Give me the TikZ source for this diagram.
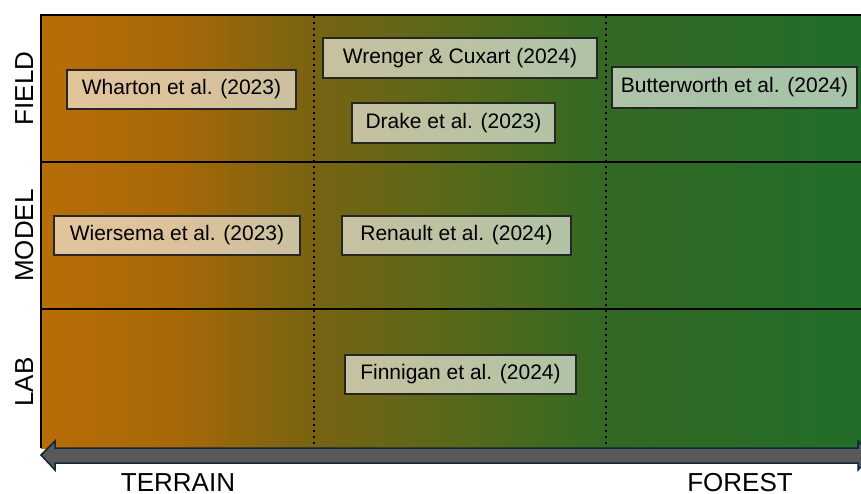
\documentclass[tikz,border=0pt]{standalone}
\usepackage{fontspec}
\setmainfont{Liberation Sans}
\pgfdeclarehorizontalshading{bgshade}{100bp}{
  rgb(0bp)=(0.72,0.43,0.03);
  rgb(25bp)=(0.72,0.43,0.03);
  rgb(33bp)=(0.66,0.41,0.03);
  rgb(41.6bp)=(0.47,0.39,0.07);
  rgb(50.5bp)=(0.34,0.41,0.10);
  rgb(59.4bp)=(0.20,0.41,0.14);
  rgb(75bp)=(0.13,0.43,0.16);
  rgb(100bp)=(0.13,0.43,0.16)}
\tikzset{
  refbox/.style={draw=black!85, line width=1.2pt, fill=white, fill opacity=0.6, text opacity=1,
    inner sep=0pt, font=\fontsize{21}{25}\selectfont},
  rowlabel/.style={font=\fontsize{26}{30}\selectfont, rotate=90, anchor=base, inner sep=0pt},
  axlabel/.style={font=\fontsize{26}{30}\selectfont, anchor=base, inner sep=0pt},
  divider/.style={line width=2pt, black},
  dotline/.style={line width=2.4pt, black, dash pattern=on 2.4pt off 3.6pt}
}
\begin{document}
\begin{tikzpicture}[x=1pt,y=-1pt]
\useasboundingbox (0,0) rectangle (861,493);
\clip (0,0) rectangle (861,493);
% background gradient
\shade[shading=bgshade] (41,15) rectangle (861,448);
% frame
\draw[divider] (870,15) -- (41,15) -- (41,448);
\draw[divider] (41,162) -- (870,162);
\draw[divider] (41,309) -- (870,309);
\coordinate (d1t) at (314,16);
\coordinate (d1b) at (314,448);
\coordinate (d2t) at (606,16);
\coordinate (d2b) at (606,448);
\draw[dotline] (d1t) -- (d1b);
\draw[dotline] (d2t) -- (d2b);
% boxes
\node[refbox, minimum width=229pt, minimum height=39pt] (wharton) at (181.5,89.5) {Wharton et al. (2023)};
\node[refbox, minimum width=274pt, minimum height=40pt] (wrenger) at (460,58) {Wrenger \& Cuxart (2024)};
\node[refbox, minimum width=203pt, minimum height=40pt] (drake) at (453.5,123) {Drake et al. (2023)};
\node[refbox, minimum width=245pt, minimum height=41pt] (butter) at (734.5,87.5) {Butterworth et al. (2024)};
\node[refbox, minimum width=246pt, minimum height=39pt] (wiersema) at (177,235.5) {Wiersema et al. (2023)};
\node[refbox, minimum width=229pt, minimum height=39pt] (renault) at (456.5,235.5) {Renault et al. (2024)};
\node[refbox, minimum width=231pt, minimum height=39pt] (finnigan) at (460.5,374.5) {Finnigan et al. (2024)};
% row labels
\node[rowlabel] (field) at (33,88.5) {FIELD};
\node[rowlabel] (model) at (33,235.5) {MODEL};
\node[rowlabel] (lab) at (33,382) {LAB};
% axis arrow
\draw[fill=black!65, draw={rgb,255:red,18;green,38;blue,58}, line width=1.5pt, line join=miter]
  (41,455) -- (55,441) -- (55,448) -- (858,448) -- (858,441) -- (872,455) -- (858,470)
  -- (858,463) -- (55,463) -- (55,470) -- cycle;
\node[axlabel] (terrain) at (178,491) {TERRAIN};
\node[axlabel] (forest) at (740,491) {FOREST};
\end{tikzpicture}
\end{document}
